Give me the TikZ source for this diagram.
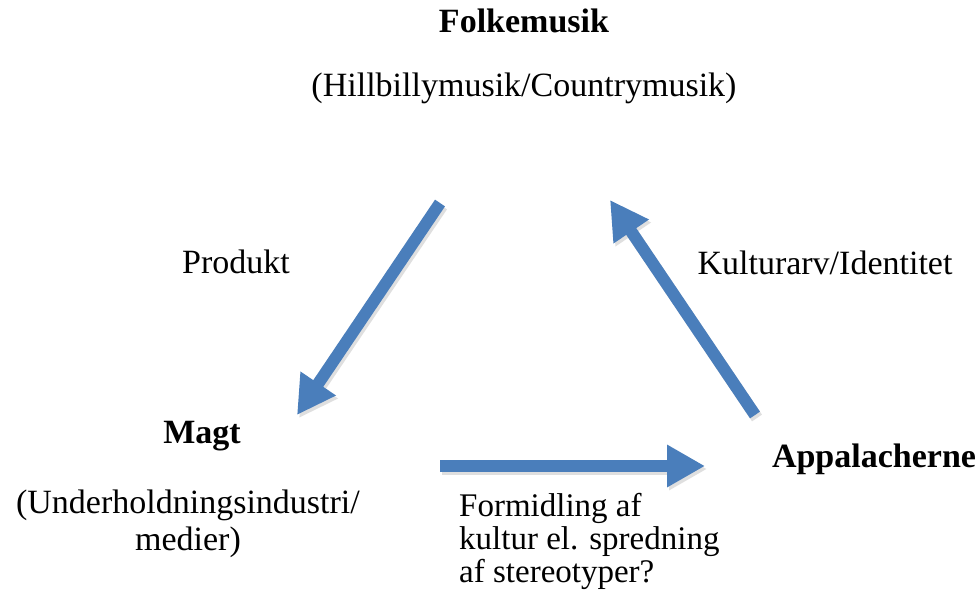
\documentclass[tikz,border=0pt]{standalone}
\usepackage{fontspec}
\setmainfont{Liberation Serif}
\usetikzlibrary{arrows.meta,positioning}

\definecolor{arrowblue}{HTML}{4A7EBB}

\begin{document}
\begin{tikzpicture}[x=1pt,y=-1pt]
  \tikzstyle{title} = [font=\fontsize{34}{37}\selectfont\bfseries, inner sep=0pt, anchor=base]
  \tikzstyle{label} = [font=\fontsize{34}{37}\selectfont, inner sep=0pt, align=center, anchor=base]
  \tikzstyle{bigarrow} = [arrowblue, line width=12pt, -{Triangle[width=40pt,length=38pt]},
    preaction={draw=black!25, opacity=0.5, line width=12pt, transform canvas={xshift=2pt,yshift=-3pt}}]
  \useasboundingbox (0,0) rectangle (976,591);

  \node[title] (folk) at (524,33) {Folkemusik};
  \node[label] (folksub) at ([yshift=-64pt]folk.base) {(Hillbillymusik/Countrymusik)};
  \node[title] (magt) at (202,443) {Magt};
  % base of a two-line node is its last line
  \node[label] (magtsub) at ([xshift=-14pt,yshift=-107pt]magt.base) {(Underholdningsindustri/\\medier)};
  \node[title] (appa) at (874,467) {Appalacherne};

  \node[label] (produkt) at (236,273) {Produkt};
  \node[label] (kultur) at (825,274) {Kulturarv/Identitet};
  \node[label, align=left, anchor=base west, font=\fontsize{33}{33}\selectfont] (formid) at (459,582) {Formidling af\\kultur el. spredning\\af stereotyper?};

  \coordinate (folkout) at (440,203);
  \coordinate (magtin) at (297,415);
  \coordinate (magtout) at (440,466);
  \coordinate (appain) at (705,466);
  \coordinate (appaout) at (755,415);
  \coordinate (folkin) at (610,200);

  \draw[bigarrow] (folkout) -- (magtin);
  \draw[bigarrow] (magtout) -- (appain);
  \draw[bigarrow] (appaout) -- (folkin);
\end{tikzpicture}
\end{document}
